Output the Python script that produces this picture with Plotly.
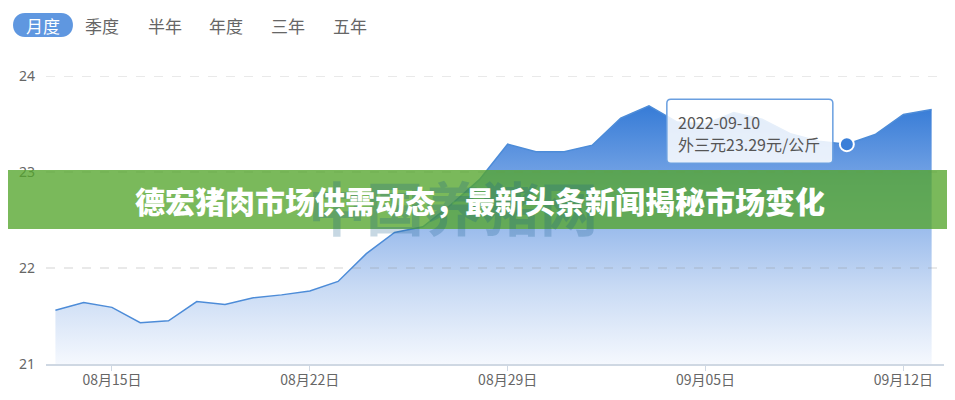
import plotly.graph_objects as go

# ---------------- data ----------------
dates = [
    "2022-08-13", "2022-08-14", "2022-08-15", "2022-08-16", "2022-08-17", "2022-08-18",
    "2022-08-19", "2022-08-20", "2022-08-21", "2022-08-22", "2022-08-23", "2022-08-24",
    "2022-08-25", "2022-08-26", "2022-08-27", "2022-08-28", "2022-08-29", "2022-08-30",
    "2022-08-31", "2022-09-01", "2022-09-02", "2022-09-03", "2022-09-04", "2022-09-05",
    "2022-09-06", "2022-09-07", "2022-09-08", "2022-09-09", "2022-09-10", "2022-09-11",
    "2022-09-12", "2022-09-13",
]
prices = [
    21.56, 21.64, 21.59, 21.43, 21.45, 21.65,
    21.62, 21.69, 21.72, 21.76, 21.86, 22.15,
    22.37, 22.43, 22.66, 22.92, 23.29, 23.21,
    23.21, 23.28, 23.56, 23.69, 23.52, 23.50,
    23.62, 23.55, 23.40, 23.32, 23.29, 23.39,
    23.60, 23.65,
]
tick_dates = ["2022-08-15", "2022-08-22", "2022-08-29", "2022-09-05", "2022-09-12"]
tick_labels = ["08月15日", "08月22日", "08月29日", "09月05日", "09月12日"]
y_ticks = [21, 22, 23, 24]
tabs = ["月度", "季度", "半年", "年度", "三年", "五年"]
series_name = "外三元"
unit = "元/公斤"
selected_date = "2022-09-10"
selected_value = prices[dates.index(selected_date)]
title_text = "德宏猪肉市场供需动态，最新头条新闻揭秘市场变化"
watermark_text = "中国养猪网"

# ---------------- layout constants (page pixels) ----------------
W, H = 955, 400          # browser window
OFF = 8                  # default page body margin
PL, PR, PT, PB = 44, 944, 76, 366   # plot area in page pixels
FIG_W, FIG_H = W - OFF, H - OFF
PLOT_W = PR - PL

CJK = "Noto Sans CJK SC"
GRAY = "#666666"

fig = go.Figure()

fig.add_trace(go.Scatter(
    x=dates, y=prices, mode="lines",
    line=dict(color="#4d8cd8", width=1.5),
    fill="tozeroy",
    fillgradient=dict(
        type="vertical",
        colorscale=[[0, "rgb(246,249,254)"], [0.3, "rgb(200,218,244)"],
                    [0.65, "rgb(130,172,232)"], [1, "rgb(52,122,214)"]],
        start=21, stop=23.72,
    ),
    hoverinfo="skip", showlegend=False,
))

fig.add_trace(go.Scatter(
    x=[selected_date], y=[selected_value], mode="markers",
    marker=dict(size=14, color="#3a7fd8", line=dict(color="white", width=2)),
    cliponaxis=False, hoverinfo="skip", showlegend=False,
))


def rounded_rect(x0, y0, x1, y1, r):
    return (f"M {x0 + r},{y0} L {x1 - r},{y0} Q {x1},{y0} {x1},{y0 + r} "
            f"L {x1},{y1 - r} Q {x1},{y1} {x1 - r},{y1} L {x0 + r},{y1} "
            f"Q {x0},{y1} {x0},{y1 - r} L {x0},{y0 + r} Q {x0},{y0} {x0 + r},{y0} Z")


def pill(x0, y0, x1, y1):
    r = (y1 - y0) / 2
    k = 1.33 * r
    return (f"M {x0 + r},{y0} L {x1 - r},{y0} C {x1 - r + k},{y0} {x1 - r + k},{y1} {x1 - r},{y1} "
            f"L {x0 + r},{y1} C {x0 + r - k},{y1} {x0 + r - k},{y0} {x0 + r},{y0} Z")


shapes = []
annotations = []

# dashed grid lines drawn above the area fill
for v in y_ticks[1:]:
    shapes.append(dict(
        type="line", xref="paper", yref="y", x0=0, x1=1, y0=v, y1=v,
        line=dict(color="rgba(140,140,140,0.38)", width=1, dash="dash"),
        layer="above",
    ))

# tabs (pixel offsets relative to top-left corner of plot area)
tab_centers = [41, 100, 163, 224, 286, 348]
tab_cy = 25
shapes.append(dict(
    type="path", xref="paper", yref="paper", xsizemode="pixel", ysizemode="pixel",
    xanchor=0, yanchor=1,
    path=pill(11 - PL, PT - 37, 71 - PL, PT - 13),
    fillcolor="#5f97e0", line=dict(width=0), layer="above",
))
for i, (t, cx) in enumerate(zip(tabs, tab_centers)):
    annotations.append(dict(
        text=t, xref="paper", yref="paper", x=0, y=1,
        xshift=cx - PL, yshift=PT - tab_cy, xanchor="center", yanchor="middle",
        showarrow=False,
        font=dict(family=CJK, size=17, color="white" if i == 0 else "#666666"),
    ))

# tooltip box anchored to the selected point
shapes.append(dict(
    type="path", xref="x", yref="y", xsizemode="pixel", ysizemode="pixel",
    xanchor=selected_date, yanchor=selected_value,
    path=rounded_rect(-180, -19, -14, 45, 4),
    fillcolor="rgba(255,255,255,0.86)", line=dict(color="#6a9fe0", width=1.5),
    layer="above",
))
annotations.append(dict(
    text=selected_date, xref="x", yref="y", x=selected_date, y=selected_value,
    xshift=-171, yshift=22, xanchor="left", yanchor="middle", showarrow=False,
    font=dict(family=CJK, size=16, color="#555555"),
))
annotations.append(dict(
    text=f"{series_name}{selected_value:.2f}{unit}", xref="x", yref="y",
    x=selected_date, y=selected_value,
    xshift=-171, yshift=0, xanchor="left", yanchor="middle", showarrow=False,
    font=dict(family=CJK, size=16, color="#555555"),
))

# green banner across the chart
shapes.append(dict(
    type="rect", xref="paper", yref="paper", ysizemode="pixel", yanchor=1,
    x0=-0.1, x1=1.1, y0=PT - 229, y1=PT - 170,
    fillcolor="rgba(85,165,45,0.78)", line=dict(width=0), layer="above",
))
annotations.append(dict(
    text=watermark_text, xref="paper", yref="paper", x=(452 - PL) / PLOT_W, y=1,
    yshift=PT - 206, xanchor="center", yanchor="middle", showarrow=False,
    font=dict(family=CJK, size=58, color="rgba(20,90,140,0.24)", weight="bold"),
))
annotations.append(dict(
    text=title_text, xref="paper", yref="paper", x=(478.5 - PL) / PLOT_W, y=1,
    yshift=PT - 200, xanchor="center", yanchor="middle", showarrow=False,
    font=dict(family=CJK, size=30, color="white", weight=900),
))

fig.update_layout(
    width=FIG_W, height=FIG_H,
    margin=dict(l=PL - OFF, r=W - PR, t=PT - OFF, b=H - PB, pad=0),
    paper_bgcolor="white", plot_bgcolor="white",
    shapes=shapes, annotations=annotations,
    showlegend=False,
    xaxis=dict(
        type="date", range=["2022-08-12 16:00", "2022-09-13 10:30"],
        tickvals=tick_dates, ticktext=tick_labels,
        showgrid=False, zeroline=False,
        showline=True, linecolor="#cfd8e3", linewidth=2,
        ticks="outside", ticklen=5, tickcolor="#cfd8e3", tickwidth=1,
        ticklabelstandoff=-3,
        tickfont=dict(family=CJK, size=14, color=GRAY),
    ),
    yaxis=dict(
        range=[21, 24], tickvals=y_ticks,
        showgrid=False, zeroline=False, showline=False, ticks="",
        ticklabelstandoff=10,
        tickfont=dict(family="Noto Sans", size=14, color=GRAY),
    ),
)

fig.write_html("out.html")
